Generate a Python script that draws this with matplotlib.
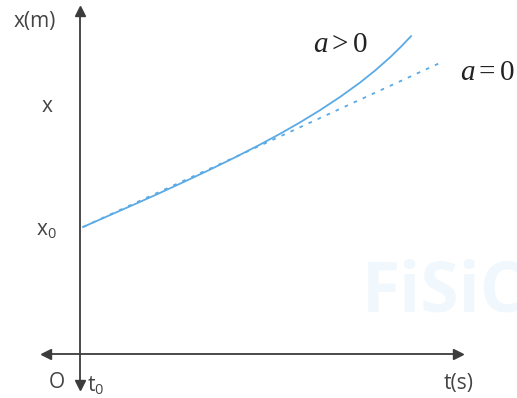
import numpy as np
import matplotlib
matplotlib.use("Agg")
import matplotlib.pyplot as plt

# values (t, x in drawing units, origin at axis crossing)
t_acc = [3, 30, 55, 80, 105, 130, 155, 180, 200, 220, 240, 260, 280, 295, 310, 321, 331]
x_acc = [127, 138.9, 149.9, 161.1, 172.6, 184.4, 196.6, 209.4, 220.2, 231.6,
         243.8, 257, 271.4, 283.4, 296.6, 307.3, 317.8]
t_lin = [3, 362]
x_lin = [127, 292]

x0_val = 127
x_val = 247

tick_labels = {"x0": r"x$_\mathsf{0}$", "x": "x", "t0": r"t$_\mathsf{0}$"}

plt.rcParams['font.family'] = ['Open Sans', 'DejaVu Sans']
plt.rcParams['mathtext.fontset'] = 'custom'
plt.rcParams['mathtext.rm'] = 'Liberation Serif'
plt.rcParams['mathtext.it'] = 'Liberation Serif:italic'
plt.rcParams['mathtext.sf'] = 'Open Sans'

fig = plt.figure(figsize=(5.17, 3.98), dpi=100)
ax = fig.add_axes([0, 0, 1, 1])
ax.set_xlim(-80, 437)
ax.set_ylim(-44, 354)
ax.axis('off')

axis_col = '#3c3c3c'
blue = '#5aaae6'

# watermark
ax.text(282, 60, "FiSiC", fontsize=50, fontweight='bold', color='#f1f8fd',
        ha='left', va='center', zorder=0, clip_on=True)

# axes with arrows
ax.plot([0, 0], [-31, 344], color=axis_col, lw=1.3, zorder=2)
ax.plot([-35, 378], [0, 0], color=axis_col, lw=1.3, zorder=2)
ax.plot(0, 343, marker='^', color=axis_col, ms=7, zorder=3)
ax.plot(0, -31, marker='v', color=axis_col, ms=7, zorder=3)
ax.plot(-34, 0, marker='<', color=axis_col, ms=7, zorder=3)
ax.plot(378, 0, marker='>', color=axis_col, ms=7, zorder=3)

# curves
ax.plot(t_lin, x_lin, color=blue, lw=1.3, linestyle=(0, (2, 3.5)), zorder=4)
ax.plot(t_acc, x_acc, color=blue, lw=1.3, zorder=5)

txt_col = '#444444'
fs = 15
ax.text(-45, 332, "x(m)", fontsize=fs, color=txt_col, ha='center', va='center')
ax.text(-33, x_val, tick_labels["x"], fontsize=fs, color=txt_col, ha='center', va='center')
ax.text(-34, x0_val - 2, tick_labels["x0"], fontsize=fs, color=txt_col, ha='center', va='center')
ax.text(-23, -29, "O", fontsize=fs, color=txt_col, ha='center', va='center')
ax.text(16, -31, tick_labels["t0"], fontsize=fs, color=txt_col, ha='center', va='center')
ax.text(379, -29, "t(s)", fontsize=fs, color=txt_col, ha='center', va='center')

ax.text(260, 309, r"$a>0$", fontsize=21, color='#222222', ha='center', va='center')
ax.text(407, 282, r"$a=0$", fontsize=21, color='#222222', ha='center', va='center')

fig.savefig("out.png", dpi=100)
